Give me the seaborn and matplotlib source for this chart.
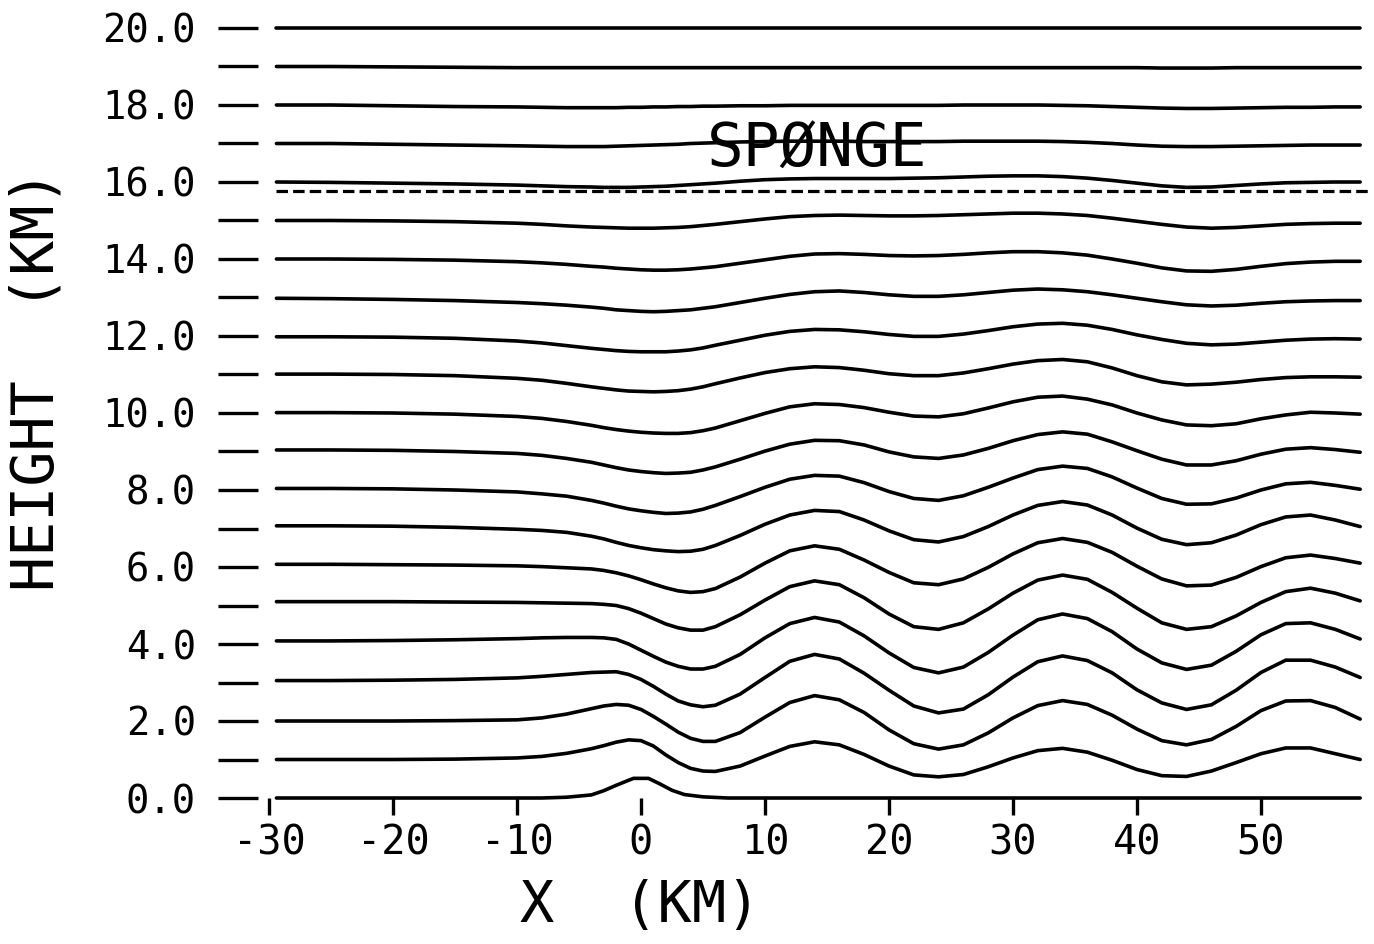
"""Streamlines of flow over a bell-shaped ridge, with the sponge layer marked."""
import numpy as np
import pandas as pd
import matplotlib
matplotlib.use("Agg")
import matplotlib.pyplot as plt
import seaborn as sns

x_km = [-29.4, -25, -20, -15, -10, -8, -6, -4,
        -3, -2, -1, 0, 1, 2, 3, 4, 5, 6,
        8, 10, 12, 14, 16, 18, 20, 22, 24, 26, 28, 30, 32,
        34, 36, 38, 40, 42, 44, 46, 48, 50, 52, 54, 56, 58]

# streamline heights (km), one list per upstream level 1..20
sl_01 = [1.00, 1.00, 1.00, 1.01, 1.04, 1.08, 1.16, 1.28,
         1.36, 1.45, 1.51, 1.49, 1.35, 1.12, 0.92, 0.77, 0.70, 0.69,
         0.83, 1.09, 1.34, 1.46, 1.38, 1.13, 0.83, 0.60, 0.55, 0.61, 0.81, 1.04, 1.23,
         1.29, 1.19, 0.98, 0.74, 0.58, 0.56, 0.70, 0.92, 1.15, 1.30, 1.30, 1.15, 1.00]
sl_02 = [2.00, 2.00, 2.00, 2.01, 2.03, 2.08, 2.18, 2.32,
         2.39, 2.43, 2.41, 2.30, 2.12, 1.92, 1.71, 1.55, 1.47, 1.47,
         1.70, 2.10, 2.48, 2.66, 2.55, 2.22, 1.77, 1.41, 1.27, 1.38, 1.69, 2.08, 2.40,
         2.53, 2.43, 2.15, 1.79, 1.49, 1.38, 1.52, 1.86, 2.27, 2.52, 2.53, 2.35, 2.05]
sl_03 = [3.05, 3.05, 3.06, 3.08, 3.12, 3.16, 3.21, 3.26,
         3.27, 3.28, 3.21, 3.08, 2.90, 2.70, 2.52, 2.42, 2.37, 2.41,
         2.70, 3.13, 3.55, 3.73, 3.61, 3.24, 2.80, 2.39, 2.21, 2.31, 2.68, 3.14, 3.54,
         3.69, 3.57, 3.25, 2.81, 2.47, 2.30, 2.42, 2.80, 3.26, 3.58, 3.58, 3.40, 3.13]
sl_04 = [4.08, 4.08, 4.09, 4.11, 4.14, 4.16, 4.17, 4.17,
         4.16, 4.12, 4.00, 3.84, 3.68, 3.53, 3.42, 3.35, 3.35, 3.42,
         3.73, 4.16, 4.53, 4.69, 4.57, 4.21, 3.77, 3.39, 3.25, 3.40, 3.78, 4.23, 4.63,
         4.78, 4.66, 4.32, 3.87, 3.51, 3.34, 3.45, 3.81, 4.24, 4.53, 4.55, 4.38, 4.13]
sl_05 = [5.10, 5.10, 5.10, 5.09, 5.08, 5.07, 5.06, 5.05,
         5.03, 5.00, 4.92, 4.80, 4.66, 4.52, 4.42, 4.36, 4.36, 4.45,
         4.76, 5.14, 5.49, 5.64, 5.54, 5.20, 4.78, 4.45, 4.38, 4.55, 4.91, 5.32, 5.66,
         5.79, 5.68, 5.34, 4.93, 4.55, 4.38, 4.45, 4.73, 5.08, 5.36, 5.45, 5.32, 5.12]
sl_06 = [6.07, 6.07, 6.06, 6.05, 6.03, 6.01, 5.98, 5.95,
         5.91, 5.85, 5.77, 5.67, 5.56, 5.46, 5.38, 5.34, 5.36, 5.44,
         5.74, 6.10, 6.42, 6.55, 6.46, 6.18, 5.86, 5.59, 5.54, 5.69, 5.99, 6.34, 6.63,
         6.74, 6.64, 6.38, 6.02, 5.69, 5.51, 5.53, 5.73, 6.01, 6.24, 6.31, 6.22, 6.10]
sl_07 = [7.07, 7.07, 7.06, 7.03, 6.98, 6.95, 6.90, 6.80,
         6.73, 6.64, 6.56, 6.50, 6.45, 6.42, 6.40, 6.41, 6.46, 6.56,
         6.82, 7.11, 7.35, 7.47, 7.44, 7.22, 6.94, 6.71, 6.65, 6.79, 7.05, 7.35, 7.60,
         7.70, 7.61, 7.35, 7.01, 6.72, 6.58, 6.63, 6.83, 7.10, 7.30, 7.35, 7.22, 7.05]
sl_08 = [8.04, 8.04, 8.03, 8.00, 7.95, 7.90, 7.84, 7.73,
         7.66, 7.58, 7.51, 7.46, 7.42, 7.39, 7.40, 7.43, 7.50, 7.60,
         7.83, 8.07, 8.28, 8.38, 8.36, 8.19, 7.96, 7.78, 7.73, 7.85, 8.07, 8.31, 8.53,
         8.62, 8.56, 8.34, 8.05, 7.78, 7.63, 7.64, 7.79, 8.00, 8.16, 8.20, 8.12, 8.02]
sl_09 = [9.04, 9.04, 9.03, 9.00, 8.95, 8.90, 8.82, 8.72,
         8.65, 8.58, 8.52, 8.48, 8.45, 8.43, 8.44, 8.46, 8.52, 8.60,
         8.80, 9.01, 9.19, 9.29, 9.28, 9.17, 8.99, 8.86, 8.82, 8.91, 9.08, 9.28, 9.44,
         9.51, 9.45, 9.25, 9.02, 8.80, 8.65, 8.65, 8.76, 8.93, 9.06, 9.10, 9.05, 8.98]
sl_10 = [10.01, 10.01, 10.00, 9.97, 9.91, 9.86, 9.78, 9.68,
         9.62, 9.57, 9.53, 9.50, 9.48, 9.47, 9.47, 9.49, 9.54, 9.61,
         9.80, 9.99, 10.16, 10.24, 10.22, 10.14, 10.02, 9.92, 9.90, 9.98, 10.13, 10.29, 10.41,
         10.44, 10.36, 10.21, 10.00, 9.82, 9.69, 9.67, 9.72, 9.85, 9.95, 10.02, 10.00, 9.97]
sl_11 = [11.01, 11.01, 11.00, 10.97, 10.90, 10.85, 10.77, 10.68,
         10.64, 10.60, 10.57, 10.56, 10.55, 10.56, 10.58, 10.62, 10.68, 10.76,
         10.91, 11.05, 11.15, 11.20, 11.18, 11.11, 11.02, 10.97, 10.97, 11.04, 11.15, 11.27, 11.36,
         11.39, 11.33, 11.17, 10.97, 10.81, 10.73, 10.75, 10.80, 10.87, 10.92, 10.94, 10.94, 10.93]
sl_12 = [11.98, 11.98, 11.97, 11.94, 11.87, 11.82, 11.75, 11.68,
         11.65, 11.62, 11.60, 11.59, 11.59, 11.59, 11.61, 11.64, 11.69, 11.76,
         11.89, 12.02, 12.12, 12.17, 12.16, 12.11, 12.04, 11.99, 11.99, 12.05, 12.14, 12.24, 12.31,
         12.33, 12.28, 12.17, 12.03, 11.91, 11.81, 11.77, 11.79, 11.84, 11.89, 11.92, 11.93, 11.92]
sl_13 = [12.98, 12.97, 12.95, 12.92, 12.87, 12.84, 12.80, 12.75,
         12.72, 12.68, 12.66, 12.64, 12.63, 12.64, 12.66, 12.68, 12.72, 12.76,
         12.87, 12.98, 13.08, 13.15, 13.17, 13.13, 13.07, 13.03, 13.03, 13.07, 13.13, 13.19, 13.22,
         13.20, 13.15, 13.07, 12.98, 12.89, 12.81, 12.78, 12.80, 12.85, 12.89, 12.91, 12.92, 12.92]
sl_14 = [14.00, 14.00, 13.99, 13.97, 13.93, 13.90, 13.86, 13.81,
         13.79, 13.76, 13.74, 13.72, 13.71, 13.71, 13.72, 13.74, 13.77, 13.80,
         13.89, 13.98, 14.07, 14.13, 14.14, 14.12, 14.09, 14.08, 14.09, 14.12, 14.16, 14.19, 14.19,
         14.16, 14.10, 14.00, 13.89, 13.77, 13.69, 13.68, 13.73, 13.81, 13.88, 13.92, 13.94, 13.94]
sl_15 = [15.00, 15.00, 14.99, 14.97, 14.93, 14.90, 14.86, 14.83,
         14.82, 14.81, 14.80, 14.80, 14.80, 14.81, 14.82, 14.84, 14.87, 14.90,
         14.97, 15.04, 15.10, 15.13, 15.14, 15.13, 15.12, 15.12, 15.13, 15.15, 15.17, 15.19, 15.19,
         15.17, 15.13, 15.06, 14.98, 14.90, 14.83, 14.80, 14.82, 14.86, 14.90, 14.92, 14.93, 14.93]
sl_16 = [16.00, 15.99, 15.97, 15.95, 15.92, 15.90, 15.88, 15.87,
         15.86, 15.86, 15.86, 15.87, 15.88, 15.89, 15.91, 15.93, 15.95, 15.97,
         16.02, 16.06, 16.08, 16.09, 16.09, 16.09, 16.09, 16.10, 16.11, 16.13, 16.15, 16.16, 16.16,
         16.14, 16.10, 16.04, 15.97, 15.90, 15.86, 15.87, 15.91, 15.95, 15.98, 15.99, 16.00, 16.00]
sl_17 = [17.00, 17.00, 16.98, 16.96, 16.94, 16.93, 16.92, 16.92,
         16.92, 16.93, 16.94, 16.95, 16.96, 16.97, 16.98, 17.00, 17.01, 17.02,
         17.04, 17.05, 17.06, 17.06, 17.06, 17.05, 17.05, 17.05, 17.05, 17.06, 17.06, 17.06, 17.06,
         17.05, 17.03, 17.00, 16.96, 16.93, 16.92, 16.92, 16.93, 16.94, 16.95, 16.96, 16.96, 16.96]
sl_18 = [18.00, 18.00, 17.98, 17.96, 17.95, 17.94, 17.93, 17.93,
         17.93, 17.93, 17.94, 17.94, 17.95, 17.95, 17.96, 17.96, 17.97, 17.97,
         17.98, 17.98, 17.99, 17.99, 17.99, 17.99, 17.99, 17.99, 17.99, 18.00, 18.00, 18.00, 18.00,
         17.99, 17.98, 17.96, 17.94, 17.92, 17.91, 17.91, 17.92, 17.93, 17.94, 17.94, 17.95, 17.95]
sl_19 = [19.00, 19.00, 18.99, 18.98, 18.97, 18.97, 18.97, 18.97,
         18.97, 18.97, 18.97, 18.97, 18.97, 18.97, 18.97, 18.97, 18.97, 18.97,
         18.97, 18.97, 18.97, 18.97, 18.97, 18.97, 18.97, 18.97, 18.97, 18.97, 18.97, 18.97, 18.97,
         18.97, 18.97, 18.97, 18.97, 18.96, 18.96, 18.96, 18.97, 18.97, 18.97, 18.97, 18.97, 18.97]
sl_20 = [20.00, 20.00, 20.00, 20.00, 20.00, 20.00, 20.00, 20.00,
         20.00, 20.00, 20.00, 20.00, 20.00, 20.00, 20.00, 20.00, 20.00, 20.00,
         20.00, 20.00, 20.00, 20.00, 20.00, 20.00, 20.00, 20.00, 20.00, 20.00, 20.00, 20.00, 20.00,
         20.00, 20.00, 20.00, 20.00, 20.00, 20.00, 20.00, 20.00, 20.00, 20.00, 20.00, 20.00, 20.00]

streamlines = [sl_01, sl_02, sl_03, sl_04, sl_05, sl_06, sl_07, sl_08, sl_09, sl_10,
               sl_11, sl_12, sl_13, sl_14, sl_15, sl_16, sl_17, sl_18, sl_19, sl_20]

# ground / ridge profile
terrain_x = [-29.4, -8, -6, -4, -3, -2, -1, -0.6, 0.6, 1.5, 2.5, 3.5, 5, 7, 58]
terrain_h = [0.0, 0.0, 0.02, 0.08, 0.19, 0.33, 0.46, 0.51, 0.51, 0.37, 0.20, 0.09, 0.03, 0.0, 0.0]

# bottom of the sponge layer
sponge_x = [-29.4, 58.6]
sponge_z = [15.77, 15.77]

x_ticks = [-30, -20, -10, 0, 10, 20, 30, 40, 50]
y_ticks = list(range(0, 21))

sns.set_style("ticks")
plt.rcParams["font.family"] = ["DejaVu Sans Mono", "DejaVu Sans"]
plt.rcParams["text.color"] = "black"

df = pd.concat(
    [pd.DataFrame({"x": x_km, "height": h, "level": i + 1}) for i, h in enumerate(streamlines)],
    ignore_index=True,
)

fig = plt.figure(figsize=(13.74, 9.44), dpi=100)
ax = fig.add_axes([269 / 1374, 146 / 944, 1098.6 / 1374, 770 / 944])

sns.lineplot(data=df, x="x", y="height", units="level", estimator=None, sort=False,
             color="black", linewidth=2.6, solid_joinstyle="round", ax=ax)
sns.lineplot(x=terrain_x, y=terrain_h, sort=False, color="black", linewidth=2.6,
             solid_joinstyle="round", ax=ax)
sns.lineplot(x=sponge_x, y=sponge_z, sort=False, color="black", linewidth=2.3,
             linestyle=(0, (3.6, 1.6)), ax=ax)
for ln in ax.lines:
    ln.set_clip_on(False)

ax.set_xlim(-30, 58.6)
ax.set_ylim(0, 20)

for s in ax.spines.values():
    s.set_visible(False)
ax.spines["left"].set_position(("outward", 7.9))

ax.set_yticks(y_ticks)
ax.set_yticklabels([f"{v:.1f}" if v % 2 == 0 else "" for v in y_ticks])
ax.set_xticks(x_ticks)
ax.set_xticklabels([str(v) for v in x_ticks])
ax.tick_params(axis="y", left=True, length=28.8, width=2.4, pad=15.8,
               labelsize=28, color="black", labelcolor="black")
ax.tick_params(axis="x", bottom=True, length=12, width=2.4, pad=6.5,
               labelsize=29, color="black", labelcolor="black")
ax.set_xlabel("")
ax.set_ylabel("")

ax.text(5.3, 16.4, "SPØNGE", fontsize=44, ha="left", va="baseline")
fig.text(37 / 1374, 1 - 380 / 944, "HEIGHT  (KM)", rotation=90, fontsize=42,
         ha="center", va="center")
fig.text(640 / 1374, 1 - 907 / 944, "X  (KM)", fontsize=41, ha="center", va="center")

fig.savefig("out.png", dpi=100, facecolor="white")
